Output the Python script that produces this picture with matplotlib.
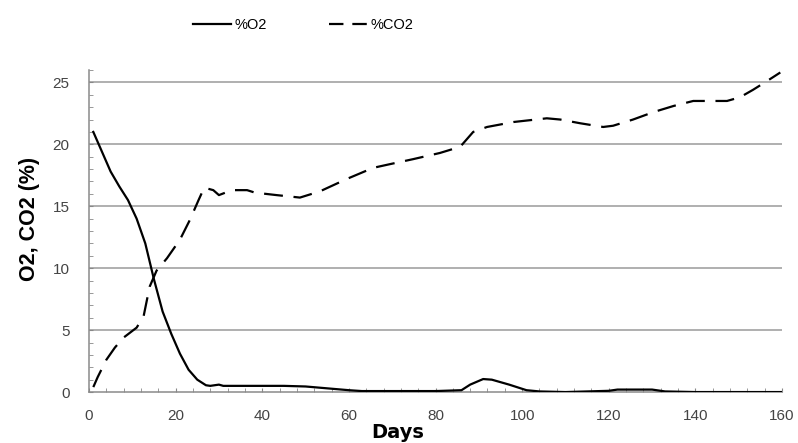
import matplotlib
matplotlib.use("Agg")
from matplotlib import pyplot as plt
from matplotlib.lines import Line2D
from matplotlib.ticker import MultipleLocator

# O2 readings (solid line)
o2_days = [1, 3, 5, 7, 9, 11, 13, 15, 17, 19, 21, 23, 25, 27, 28, 30, 31,
           35, 40, 45, 50, 55, 60, 63, 70, 80, 86, 88, 91, 93, 97, 101,
           104, 110, 115, 120, 122, 130, 133, 140, 150, 160]
o2 = [21.0, 19.4, 17.8, 16.6, 15.5, 14.0, 12.0, 9.1, 6.5, 4.7, 3.1, 1.8,
      1.0, 0.55, 0.5, 0.6, 0.5, 0.5, 0.5, 0.5, 0.45, 0.3, 0.15, 0.08,
      0.08, 0.08, 0.15, 0.6, 1.05, 1.0, 0.6, 0.15, 0.05, 0.0, 0.05, 0.1,
      0.2, 0.2, 0.05, 0.0, 0.0, 0.0]

# CO2 readings (dashed line)
co2_days = [1, 2, 4, 6, 8, 11, 12.6, 14, 15.6, 18, 21, 23.3, 25.3, 26.6,
            28.7, 30, 33, 36.5, 38.3, 43.3, 48.7, 53.3, 59.5, 65.6, 69.5,
            74.8, 81, 85.7, 88.7, 91.9, 98, 105.7, 108.8, 113.4, 118.7, 121,
            125.6, 130.3, 135, 139.5, 143.4, 147.3, 150.3, 153.3, 156.5, 159.6]
co2 = [0.4, 1.2, 2.6, 3.6, 4.4, 5.2, 6.1, 8.5, 9.8, 10.8, 12.3, 13.9, 15.5,
       16.5, 16.3, 15.9, 16.3, 16.3, 16.1, 15.9, 15.7, 16.2, 17.2, 18.1,
       18.4, 18.8, 19.3, 19.8, 21.0, 21.4, 21.8, 22.1, 22.0, 21.7, 21.4,
       21.5, 22.0, 22.6, 23.1, 23.5, 23.5, 23.5, 23.8, 24.4, 25.1, 25.8]

plt.rcParams["font.family"] = ["Liberation Sans", "DejaVu Sans"]

fig = plt.figure(figsize=(7.98, 4.43), dpi=100)
ax = fig.add_axes([0.1115, 0.115, 0.8685, 0.727])

for v in range(5, 30, 5):
    ax.axhline(v, color="#9a9a9a", lw=1.1, zorder=1)

l1, = ax.plot(o2_days, o2, color="black", lw=1.6, zorder=3)
l2, = ax.plot(co2_days, co2, color="black", lw=1.6, zorder=3)
l2.set_dashes((8.5, 4.8))

ax.set_xlim(0, 160)
ax.set_ylim(0, 26)
ax.set_xticks(range(0, 161, 20))
ax.set_yticks(range(0, 26, 5))
ax.xaxis.set_minor_locator(MultipleLocator(4))
ax.yaxis.set_minor_locator(MultipleLocator(1))
ax.tick_params(which="both", direction="in", color="#888888", length=3,
               labelsize=11, labelcolor="#444444")
ax.tick_params(axis="x", pad=12)
ax.tick_params(axis="y", pad=14)

for s in ["top", "right"]:
    ax.spines[s].set_visible(False)
for s in ["left", "bottom"]:
    ax.spines[s].set_color("#8a8a8a")
    ax.spines[s].set_linewidth(1.1)

ax.set_ylabel("O2, CO2 (%)", fontsize=15.5, fontweight="bold")
ax.yaxis.set_label_coords(-0.071, 0.537)
fig.text(398 / 798, 1 - 432 / 443, "Days", fontsize=14, fontweight="bold",
         family="DejaVu Sans", ha="center", va="center")

# legend swatches, shorter dashes than the plotted line
h1 = Line2D([], [], color="black", lw=1.6)
h2 = Line2D([], [], color="black", lw=1.6, dashes=(6.5, 4))
fig.legend([h1, h2], ["%O2", "%CO2"], loc="center",
           bbox_to_anchor=(0.38, 0.944), ncol=2, frameon=False,
           fontsize=10.5, handlelength=2.6, handletextpad=0.2,
           columnspacing=4.3)

fig.savefig("out.png", dpi=100)
